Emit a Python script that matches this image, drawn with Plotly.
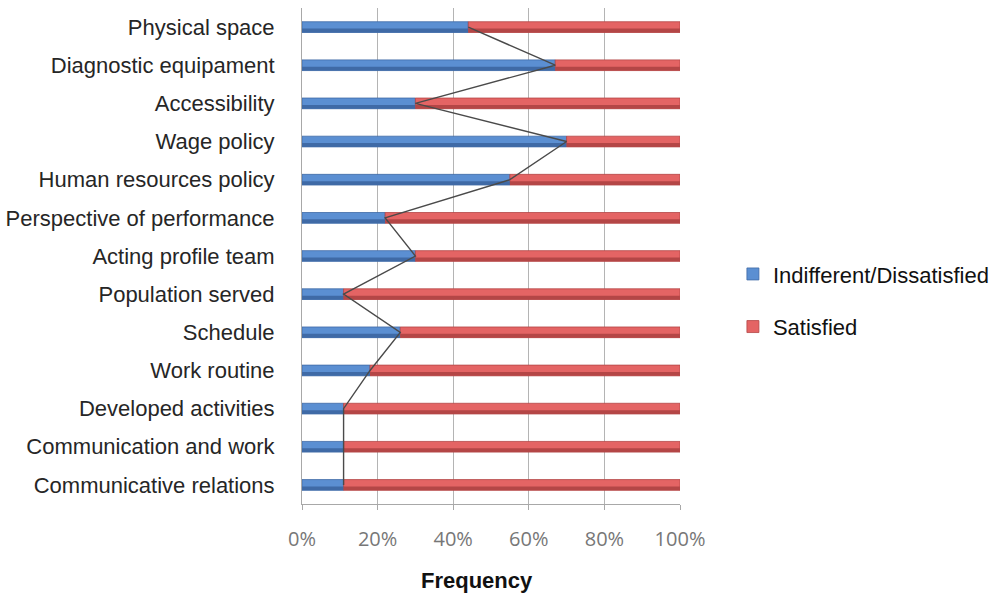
import plotly.graph_objects as go

# Aspects of work evaluated, top to bottom
categories = [
    "Physical space",
    "Diagnostic equipament",
    "Accessibility",
    "Wage policy",
    "Human resources policy",
    "Perspective of performance",
    "Acting profile team",
    "Population served",
    "Schedule",
    "Work routine",
    "Developed activities",
    "Communication and work",
    "Communicative relations",
]

# Share of respondents (%) per aspect
dissatisfied = [44, 67, 30, 70, 55, 22, 30, 11, 26, 18, 11, 11, 11]
satisfied = [100 - v for v in dissatisfied]

tick_vals = [0, 20, 40, 60, 80, 100]
tick_text = ["0%", "20%", "40%", "60%", "80%", "100%"]

BLUE, BLUE_DARK = "#5b8fd2", "#3f6aa6"
RED, RED_DARK = "#e46464", "#b44646"
BAR_W = 0.28

fig = go.Figure()

# Main stacked segments
fig.add_trace(go.Bar(
    y=categories, x=dissatisfied, base=[0] * len(categories), orientation="h",
    name="Indifferent/Dissatisfied", width=BAR_W, offset=-BAR_W / 2,
    marker=dict(color=BLUE, line=dict(color=BLUE_DARK, width=0.8)),
    legendgroup="a",
))
fig.add_trace(go.Bar(
    y=categories, x=satisfied, base=dissatisfied, orientation="h",
    name="Satisfied", width=BAR_W, offset=-BAR_W / 2,
    marker=dict(color=RED, line=dict(color=RED_DARK, width=0.8)),
    legendgroup="b",
))
# Darker lower band for the bevelled look
fig.add_trace(go.Bar(
    y=categories, x=dissatisfied, base=[0] * len(categories), orientation="h",
    width=0.1, offset=BAR_W / 2 - 0.1, showlegend=False, hoverinfo="skip",
    marker=dict(color=BLUE_DARK, line=dict(width=0)),
))
fig.add_trace(go.Bar(
    y=categories, x=satisfied, base=dissatisfied, orientation="h",
    width=0.1, offset=BAR_W / 2 - 0.1, showlegend=False, hoverinfo="skip",
    marker=dict(color=RED_DARK, line=dict(width=0)),
))

# Series line joining the segment boundaries
fig.add_trace(go.Scatter(
    y=categories, x=dissatisfied, mode="lines", showlegend=False,
    line=dict(color="#4a4a4a", width=1.4), hoverinfo="skip",
))

fig.update_layout(
    width=992, height=601,
    margin=dict(l=302, r=312, t=8, b=97, autoexpand=False),
    barmode="overlay",
    plot_bgcolor="white", paper_bgcolor="white",
    font=dict(family="Liberation Sans, Arial, sans-serif", size=22, color="#222222"),
    legend=dict(
        x=1.14, xanchor="left", y=0.41, yanchor="middle",
        font=dict(size=22, color="#111111"), tracegroupgap=21,
        traceorder="grouped",
    ),
    annotations=[dict(
        text="<b>Frequency</b>", xref="paper", yref="paper",
        x=0.464, y=-0.155, xanchor="center", yanchor="middle",
        showarrow=False, font=dict(size=22, color="#111111"),
    )],
)

fig.update_xaxes(
    range=[0, 100], tickvals=tick_vals, ticktext=tick_text,
    showgrid=True, gridcolor="#b4b4b4", gridwidth=1,
    showline=True, linecolor="#a8a8a8", linewidth=1,
    ticks="outside", ticklen=5, tickcolor="#a8a8a8",
    tickfont=dict(family="Open Sans, sans-serif", size=20, color="#777777"),
    ticklabelstandoff=12,
    zeroline=False, automargin=False,
)
fig.update_yaxes(
    autorange=False, range=[len(categories) - 0.5, -0.5],
    showline=True, linecolor="#a8a8a8", linewidth=1,
    ticks="", ticklabelstandoff=22, automargin=False,
    tickfont=dict(size=22, color="#262626"),
)

fig.write_html("out.html")
